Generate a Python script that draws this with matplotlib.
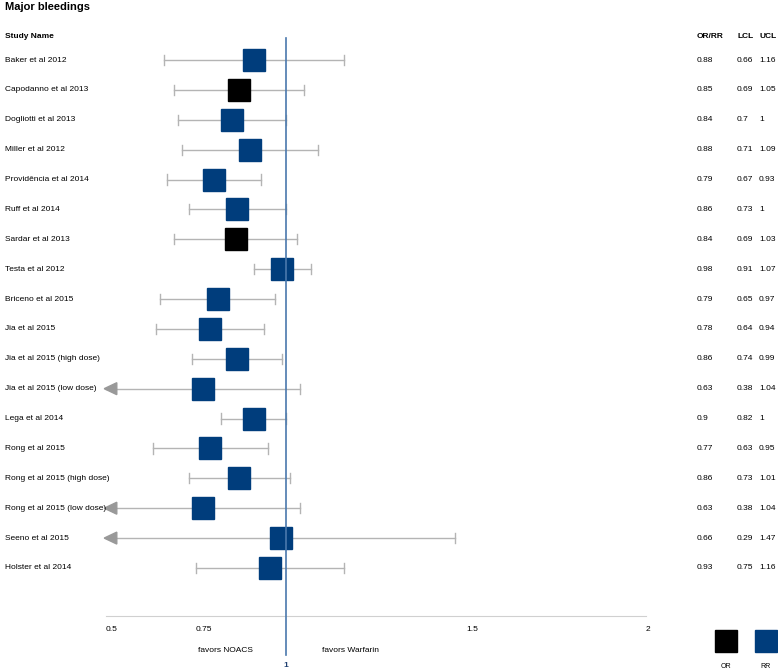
import matplotlib
matplotlib.use("Agg")
import matplotlib.pyplot as plt
from matplotlib.patches import Rectangle, Polygon

# forest plot data, major bleedings
studies = ["Baker et al 2012", "Capodanno et al 2013", "Dogliotti et al 2013",
           "Miller et al 2012", "Providência et al 2014", "Ruff et al 2014",
           "Sardar et al 2013", "Testa et al 2012", "Briceno et al 2015",
           "Jia et al 2015", "Jia et al 2015 (high dose)", "Jia et al 2015 (low dose)",
           "Lega et al 2014", "Rong et al 2015", "Rong et al 2015 (high dose)",
           "Rong et al 2015 (low dose)", "Seeno et al 2015", "Holster et al 2014"]
est = [0.88, 0.85, 0.84, 0.88, 0.79, 0.86, 0.84, 0.98, 0.79, 0.78, 0.86, 0.63,
       0.9, 0.77, 0.86, 0.63, 0.66, 0.93]
lcl = [0.66, 0.69, 0.7, 0.71, 0.67, 0.73, 0.69, 0.91, 0.65, 0.64, 0.74, 0.38,
       0.82, 0.63, 0.73, 0.38, 0.29, 0.75]
ucl = [1.16, 1.05, 1, 1.09, 0.93, 1, 1.03, 1.07, 0.97, 0.94, 0.99, 1.04,
       1, 0.95, 1.01, 1.04, 1.47, 1.16]
kind = ["RR", "OR", "RR", "RR", "RR", "RR", "OR", "RR", "RR", "RR", "RR", "RR",
        "RR", "RR", "RR", "RR", "RR", "RR"]
ticks = [0.5, 0.75, 1.5, 2]

BLUE = "#003d7c"
GREY = "#b4b4b4"
xmin, xmax = 0.5, 2

fig = plt.figure(figsize=(7.78, 6.72), dpi=100)
ax = fig.add_axes([0, 0, 1, 1])
ax.set_xlim(0.5 - 106 / 360, 0.5 + 672 / 360)
ax.set_ylim(612 / 29.88, -60 / 29.88)
ax.axis("off")

font = "Liberation Sans"
fs = 6


def px2x(px):
    return 0.5 + (px - 106) / 360


ax.text(px2x(5), -1.77, "Major bleedings", fontsize=8, weight="bold",
        family=font, va="center", ha="left")
ax.text(px2x(5), -0.77, "Study Name", fontsize=fs, weight="bold",
        family=font, va="center")
for lab, px in [("OR/RR", 697), ("LCL", 737), ("UCL", 759)]:
    ax.text(px2x(px), -0.77, lab, fontsize=fs, weight="bold",
            family=font, va="center")

bw = 22 / 360
bh = 22 / 29.88
for i, name in enumerate(studies):
    lo = max(lcl[i], xmin)
    hi = min(ucl[i], xmax)
    ax.plot([lo, hi], [i, i], color=GREY, lw=1, zorder=1)
    ax.plot([hi, hi], [i - 0.17, i + 0.17], color=GREY, lw=1, zorder=1)
    if lcl[i] < xmin:
        ax.add_patch(Polygon([[lo - 0.005, i], [lo + 0.03, i - 0.2], [lo + 0.03, i + 0.2]],
                             closed=True, color="#999999", zorder=2))
    else:
        ax.plot([lo, lo], [i - 0.17, i + 0.17], color=GREY, lw=1, zorder=1)
    mid = (lo + hi) / 2
    c = "black" if kind[i] == "OR" else BLUE
    ax.add_patch(Rectangle((mid - bw / 2, i - bh / 2), bw, bh, color=c, zorder=3))

    ax.text(px2x(5), i, name, fontsize=fs, family=font, va="center")
    ax.text(px2x(697), i, f"{est[i]:g}", fontsize=fs, family=font, va="center")
    ax.text(px2x(737), i, f"{lcl[i]:g}", fontsize=fs, family=font, va="center")
    ax.text(px2x(759), i, f"{ucl[i]:g}", fontsize=fs, family=font, va="center")

# reference line at 1
ax.plot([1, 1], [-0.75, 19.9], color="#4a78ad", lw=1.2, zorder=4)
ax.text(1, 20.25, "1", fontsize=fs, weight="bold", color="#1f3f70",
        family=font, ha="center", va="center")

# axis
ax.plot([xmin, xmax], [18.6, 18.6], color="#d0d0d0", lw=0.8)
for t in ticks:
    ax.text(t, 19.05, f"{t:g}", fontsize=fs, family=font, va="center", ha="left")
ax.text(px2x(225), 19.75, "favors NOACS", fontsize=fs, family=font,
        va="center", ha="center")
ax.text(px2x(351), 19.75, "favors Warfarin", fontsize=fs, family=font,
        va="center", ha="center")

# legend
for lab, px, c in [("OR", 726, "black"), ("RR", 766, BLUE)]:
    x = px2x(px)
    ax.add_patch(Rectangle((x - bw / 2, 19.45 - bh / 2), bw, bh, color=c))
    ax.text(x, 20.3, lab, fontsize=5, family=font, ha="center", va="center")

fig.savefig("out.png", dpi=100)
